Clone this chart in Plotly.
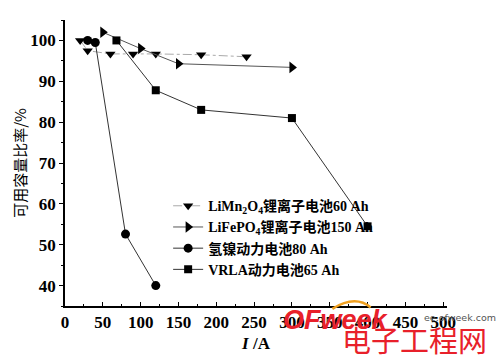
import plotly.graph_objects as go

# Data
limn_x = [20, 30, 60, 90, 120, 180, 240]
limn_y = [100, 97.5, 96.7, 96.7, 96.7, 96.5, 96.0]
lifepo_x = [50, 100, 150, 300]
lifepo_y = [102, 98, 94.3, 93.4]
nimh_x = [30, 40, 80, 120]
nimh_y = [100, 99.5, 52.6, 40]
vrla_x = [68, 120, 180, 300, 400]
vrla_y = [100, 87.8, 83, 81, 54.5]

names = ["<b>LiMn<sub>2</sub>O<sub>4</sub>锂离子电池60 Ah</b>",
         "<b>LiFePO<sub>4</sub>锂离子电池150 Ah</b>",
         "<b>氢镍动力电池80 Ah</b>",
         "<b>VRLA动力电池65 Ah</b>"]

x_ticks = [0, 50, 100, 150, 200, 250, 300, 350, 400, 450, 500]
y_ticks = [40, 50, 60, 70, 80, 90, 100]

fig = go.Figure()
fig.add_trace(go.Scatter(x=limn_x, y=limn_y, name=names[0], mode="lines+markers",
                         line=dict(color="#aaa", width=1, dash="dashdot"),
                         marker=dict(symbol="triangle-down", size=9, color="black")))
fig.add_trace(go.Scatter(x=lifepo_x, y=lifepo_y, name=names[1], mode="lines+markers",
                         line=dict(color="#555", width=1),
                         marker=dict(symbol="triangle-right", size=10, color="black")))
fig.add_trace(go.Scatter(x=nimh_x, y=nimh_y, name=names[2], mode="lines+markers",
                         line=dict(color="#333", width=1),
                         marker=dict(symbol="circle", size=9, color="black")))
fig.add_trace(go.Scatter(x=vrla_x, y=vrla_y, name=names[3], mode="lines+markers",
                         line=dict(color="#333", width=1),
                         marker=dict(symbol="square", size=8, color="black")))

tickfont = dict(family="Liberation Serif", size=17, color="black")
fig.update_layout(
    width=500, height=359,
    margin=dict(l=65, r=53, t=20, b=53, autoexpand=False),
    paper_bgcolor="white", plot_bgcolor="white",
    font=dict(family="Liberation Serif, Noto Sans CJK SC", color="black"),
    showlegend=True,
    legend=dict(x=0.27, y=0.405, xanchor="left", yanchor="top",
                bgcolor="rgba(0,0,0,0)", tracegroupgap=0,
                font=dict(family="Liberation Serif, Noto Sans CJK SC", size=14, color="black"),
                itemwidth=30),
    xaxis=dict(range=[0, 505], tickvals=x_ticks, ticktext=[f"<b>{v}</b>" for v in x_ticks],
               automargin=False,
               showgrid=False, zeroline=False, showline=True, linecolor="black", linewidth=1.5,
               ticks="inside", ticklen=4, tickcolor="black", tickfont=tickfont,
               minor=dict(dtick=25, ticks="inside", ticklen=2, tickcolor="black"),
               title=dict(text="<b><i>I</i> /A</b>", font=dict(family="Liberation Serif", size=17), standoff=6)),
    yaxis=dict(range=[35, 105], tickvals=y_ticks, ticktext=[f"<b>{v}</b>" for v in y_ticks],
               automargin=False,
               showgrid=False, zeroline=False, showline=True, linecolor="black", linewidth=1.5,
               ticks="outside", ticklen=4, tickcolor="black", tickfont=tickfont,
               minor=dict(dtick=5, ticks="outside", ticklen=2, tickcolor="black"),
               title=dict(text="可用容量比率/%", font=dict(family="Noto Sans CJK SC", size=15), standoff=0)),
)

# watermark
fig.add_shape(type="path", xref="paper", yref="paper",
              path="M 0.70 -0.01 Q 0.76 0.04 0.80 -0.005", line=dict(color="#f0a020", width=2.5))
fig.add_annotation(xref="paper", yref="paper", x=0.565, y=0.01, xanchor="left", yanchor="top",
                   text="<b><i>OFweek</i></b>", showarrow=False,
                   font=dict(family="Liberation Sans", size=27, color="#e8202a"))
fig.add_annotation(xref="paper", yref="paper", x=0.935, y=-0.015, xanchor="left", yanchor="top",
                   text="ee.ofweek.com", showarrow=False,
                   font=dict(family="DejaVu Sans", size=9.5, color="#555"))
fig.add_annotation(xref="paper", yref="paper", x=0.72, y=-0.035, xanchor="left", yanchor="top",
                   text="电子工程网", showarrow=False,
                   font=dict(family="Noto Sans CJK SC", size=29, color="#e8202a"))

fig.write_html("out.html", config={"displayModeBar": False},
               post_script="document.body.style.margin='0';document.body.style.overflow='hidden';")
